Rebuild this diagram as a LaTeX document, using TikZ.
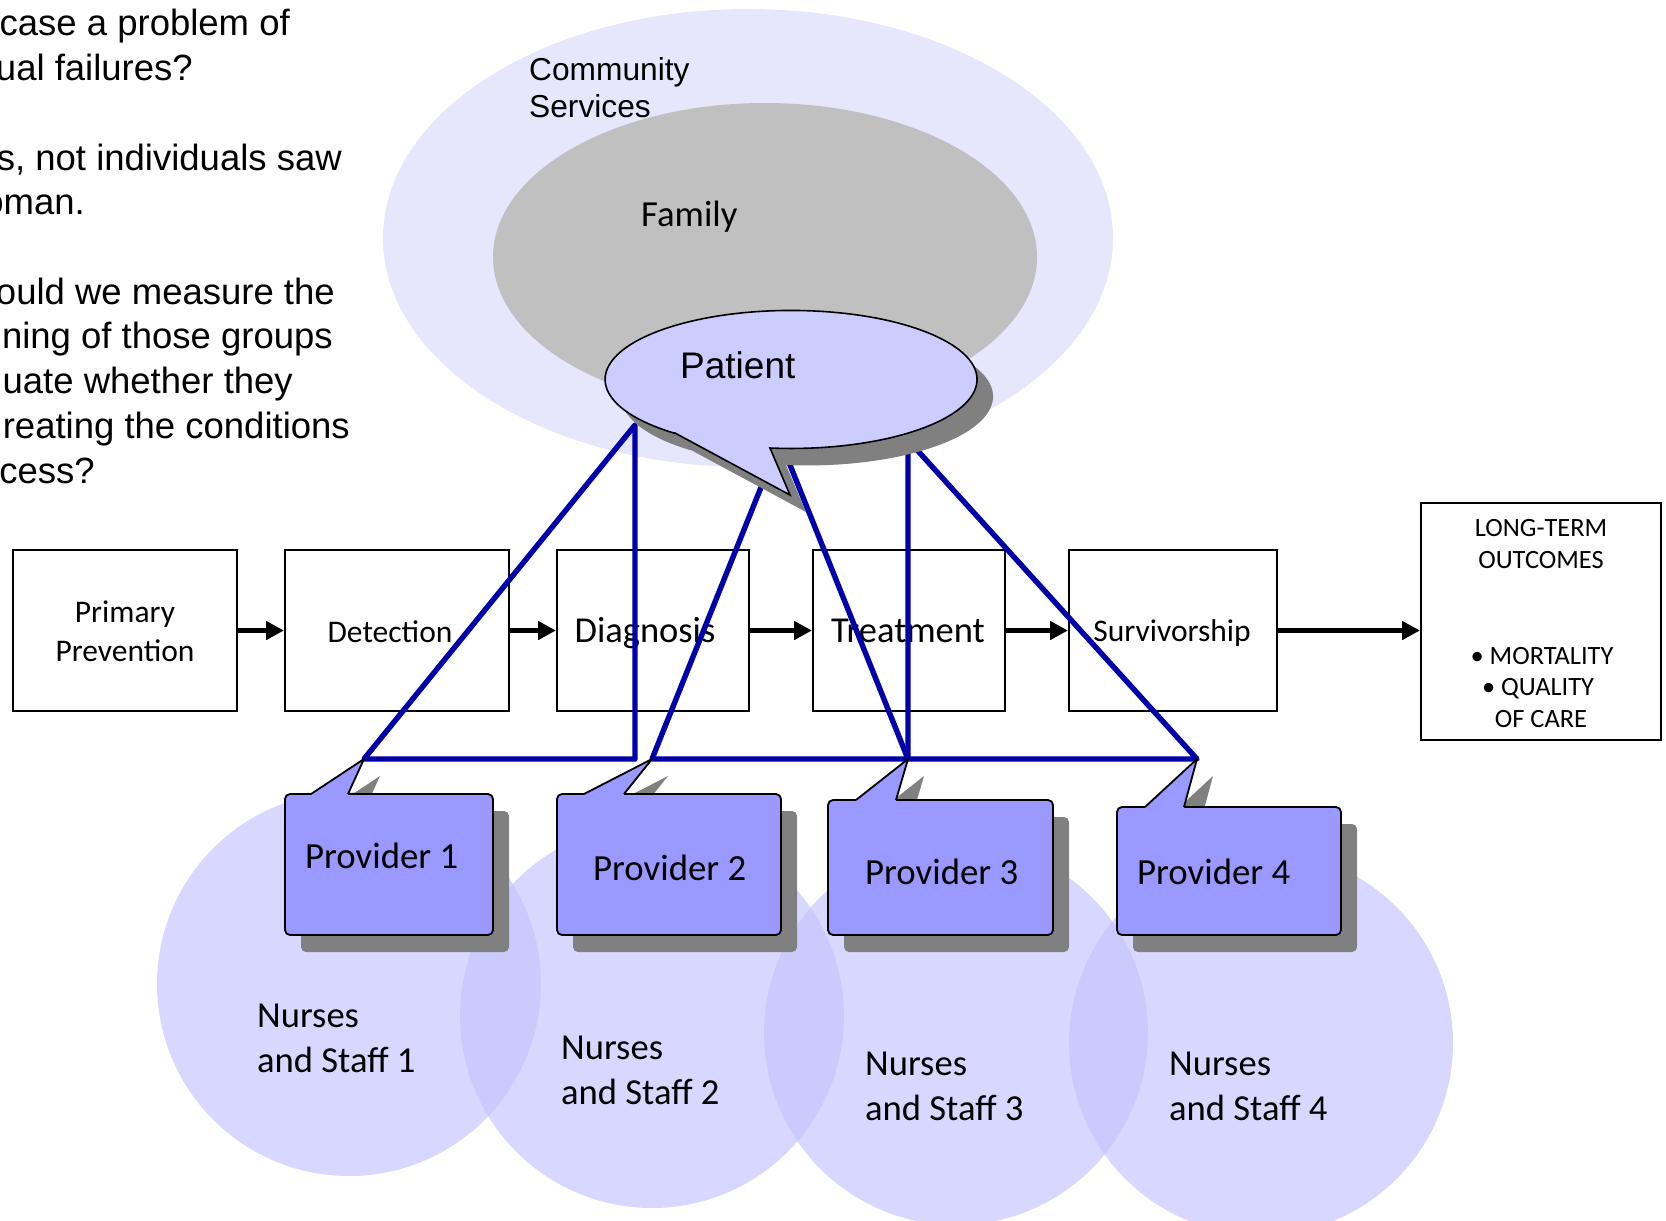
\documentclass[tikz,border=0pt]{standalone}
\usepackage{fontspec}
\setmainfont{Carlito}
\newfontfamily\arialf{Liberation Sans}
\usetikzlibrary{arrows.meta}

\definecolor{communityfill}{RGB}{230,230,252}
\definecolor{familygray}{RGB}{192,192,192}
\definecolor{patientfill}{RGB}{204,204,255}
\definecolor{providerfill}{RGB}{153,153,255}
\definecolor{nursefill}{RGB}{196,196,255}
\definecolor{shadowgray}{RGB}{128,128,128}
\definecolor{linkblue}{RGB}{0,0,170}

\begin{document}
\begin{tikzpicture}[x=1pt, y=-1pt,
  stage/.style={draw=black, line width=2pt, fill=white, inner sep=0pt},
  lbl/.style={inner sep=0pt, anchor=base},
  lblw/.style={inner sep=0pt, anchor=base west},
  flow/.style={line width=5pt, -{Triangle[length=18pt,width=18pt]}},
  link/.style={draw=linkblue, line width=5.4pt, line join=round},
  provbox/.style={draw=black, line width=1.8pt, fill=providerfill, rounded corners=5pt, inner sep=0pt},
  provshadow/.style={fill=shadowgray, rounded corners=5pt},
  nurse/.style={fill=nursefill, fill opacity=0.67},
  qtext/.style={inner sep=0pt, anchor=base east, font=\arialf\fontsize{36.5}{44}\selectfont},
  stagefont/.style={font=\fontsize{31.5}{37}\selectfont},
  bigstagefont/.style={font=\fontsize{36.5}{43}\selectfont},
  outfont/.style={font=\fontsize{26.4}{32}\selectfont},
  provfont/.style={font=\fontsize{36.8}{44}\selectfont},
  nursefont/.style={font=\fontsize{36.6}{45}\selectfont}
]
\useasboundingbox (0,0) rectangle (1666,1221);
\clip (0,0) rectangle (1666,1221);

% circles of care around the patient
\fill[communityfill] (748,238) ellipse[x radius=365, y radius=229];
\fill[familygray] (765,257) ellipse[x radius=272, y radius=154];
\node[lblw, font=\arialf\fontsize{31.7}{37}\selectfont] (commA) at (529,80) {Community};
\node[lblw, font=\arialf\fontsize{31.7}{37}\selectfont] (commB) at (529,117) {Services};
\node[lblw, font=\fontsize{36.7}{44}\selectfont] (fam) at (641,226) {Family};

% nurses and staff groups
\fill[nurse] (349,984) circle[radius=192];
\fill[nurse] (652,1016) circle[radius=192];
\fill[nurse] (956,1033) circle[radius=192];
\fill[nurse] (1261,1043) circle[radius=192];
\node[lblw, nursefont] (n1a) at (257,1027) {Nurses};
\node[lblw, nursefont] (n1b) at (257,1072) {and Staff 1};
\node[lblw, nursefont] (n2a) at (561,1059) {Nurses};
\node[lblw, nursefont] (n2b) at (561,1104) {and Staff 2};
\node[lblw, nursefont] (n3a) at (865,1075) {Nurses};
\node[lblw, nursefont] (n3b) at (865,1120) {and Staff 3};
\node[lblw, nursefont] (n4a) at (1169,1075) {Nurses};
\node[lblw, nursefont] (n4b) at (1169,1120) {and Staff 4};

% care pathway
\node[stage, minimum width=224pt, minimum height=161pt] (pp) at (125,630.5) {};
\node[stage, minimum width=224pt, minimum height=161pt] (det) at (397,630.5) {};
\node[stage, minimum width=192pt, minimum height=161pt] (diag) at (653,630.5) {};
\node[stage, minimum width=192pt, minimum height=161pt] (treat) at (909,630.5) {};
\node[stage, minimum width=208pt, minimum height=161pt] (surv) at (1173,630.5) {};
\node[stage, minimum width=240pt, minimum height=237pt] (out) at (1541,621.5) {};

\node[lbl, stagefont] (ppA) at (125,622) {Primary};
\node[lbl, stagefont] (ppB) at (125,661) {Prevention};
\node[lbl, stagefont] (detL) at (390,642) {Detection};
\node[lbl, bigstagefont] (diagL) at (645,642) {Diagnosis};
\node[lbl, bigstagefont] (treatL) at (908,642) {Treatment};
\node[lbl, stagefont] (survL) at (1172,641) {Survivorship};
\node[lbl, outfont] (outA) at (1541,536) {LONG-TERM};
\node[lbl, outfont] (outB) at (1541,568) {OUTCOMES};
\node[lbl, outfont] (outC) at (1542,664) {• MORTALITY};
\node[lbl, outfont] (outD) at (1538,695) {• QUALITY};
\node[lbl, outfont] (outE) at (1541,727) {OF CARE};

\draw[flow] (pp) -- (det);
\draw[flow] (det) -- (diag);
\draw[flow] (diag) -- (treat);
\draw[flow] (treat) -- (surv);
\draw[flow] (surv.east) -- (surv.east -| out.west);

% links from each provider to the patient
\coordinate (tip1) at (364,759);
\coordinate (tip2) at (652,759);
\coordinate (tip3) at (908,759);
\coordinate (tip4) at (1197,759);
\coordinate (apex1) at (635,425);
\coordinate (apex2) at (780,440);
\coordinate (apex3) at (908,440);
\draw[link] (tip1) -- (apex1) -- (apex1 |- tip1) -- cycle;
\draw[link] (tip2) -- (apex2) -- (tip3) -- cycle;
\draw[link] (tip3) -- (apex3) -- (tip4) -- cycle;

% patient callout
\fill[shadowgray, shift={(16,17)}] (675,433) -- (790,495) -- (770,448)
  arc[start angle=96.5, end angle=-230.9, x radius=186, y radius=69] -- cycle;
\draw[fill=patientfill, line width=1.6pt, line join=miter] (675,433) -- (790,495) -- (770,448)
  arc[start angle=96.5, end angle=-230.9, x radius=186, y radius=69] -- cycle;
\node[lblw, font=\arialf\fontsize{37}{44}\selectfont] (patient) at (680,378) {Patient};

% provider callouts
\fill[provshadow] (301,811) rectangle (509,952);
\fill[provshadow] (573,811) rectangle (797,952);
\fill[provshadow] (844,817) rectangle (1069,952);
\fill[provshadow] (1133,824) rectangle (1357,952);
\fill[shadowgray] (327,811) -- (380,776) -- (364,811) -- cycle;
\fill[shadowgray] (600,811) -- (668,776) -- (640,811) -- cycle;
\fill[shadowgray] (872,817) -- (924,776) -- (912,817) -- cycle;
\fill[shadowgray] (1161,824) -- (1213,776) -- (1200,824) -- cycle;

\node[provbox, minimum width=208pt, minimum height=141pt] (p1) at (389,864.5) {};
\node[provbox, minimum width=224pt, minimum height=141pt] (p2) at (669,864.5) {};
\node[provbox, minimum width=225pt, minimum height=135pt] (p3) at (940.5,867.5) {};
\node[provbox, minimum width=224pt, minimum height=128pt] (p4) at (1229,871) {};

\fill[providerfill] (311,796) -- (311,794) -- (tip1) -- (348,794) -- (348,796) -- cycle;
\draw[line width=1.8pt, line join=miter] (311,794) -- (tip1) -- (348,794);
\fill[providerfill] (584,796) -- (584,794) -- (tip2) -- (624,794) -- (624,796) -- cycle;
\draw[line width=1.8pt, line join=miter] (584,794) -- (tip2) -- (624,794);
\fill[providerfill] (856,802) -- (856,800) -- (tip3) -- (896,800) -- (896,802) -- cycle;
\draw[line width=1.8pt, line join=miter] (856,800) -- (tip3) -- (896,800);
\fill[providerfill] (1145,809) -- (1145,807) -- (tip4) -- (1184,807) -- (1184,809) -- cycle;
\draw[line width=1.8pt, line join=miter] (1145,807) -- (tip4) -- (1184,807);

\node[lblw, provfont] (p1L) at (305,868) {Provider 1};
\node[lblw, provfont] (p2L) at (593,880) {Provider 2};
\node[lblw, provfont] (p3L) at (865,884) {Provider 3};
\node[lblw, provfont] (p4L) at (1137,884) {Provider 4};

% questions beside the diagram
\node[qtext] (q1) at (290,35) {case a problem of};
\node[qtext] (q2) at (193,80) {ual failures?};
\node[qtext] (q3) at (342,170) {s, not individuals saw};
\node[qtext] (q4) at (85,214) {oman.};
\node[qtext] (q5) at (335,304) {ould we measure the};
\node[qtext] (q6) at (333,348) {ning of those groups};
\node[qtext] (q7) at (293,393) {uate whether they};
\node[qtext] (q8) at (350,438) {reating the conditions};
\node[qtext] (q9) at (95,483) {cess?};
\end{tikzpicture}
\end{document}
